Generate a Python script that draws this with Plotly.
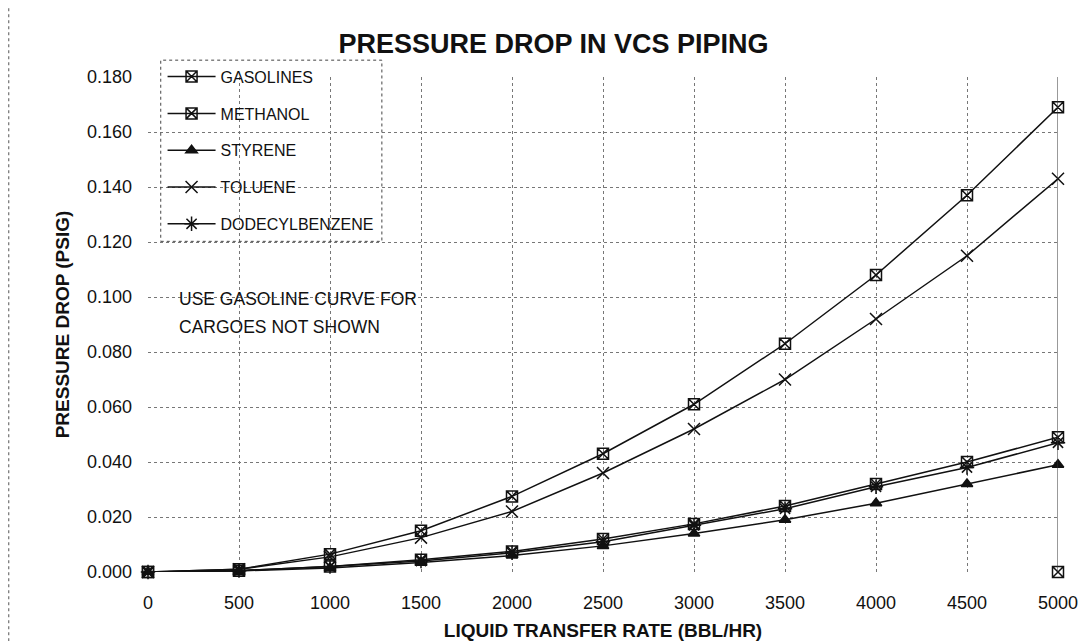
import plotly.graph_objects as go

# ---- data ----
rate = [0, 500, 1000, 1500, 2000, 2500, 3000, 3500, 4000, 4500, 5000]
gasolines = [0.000, 0.001, 0.0065, 0.015, 0.0275, 0.043, 0.061, 0.083, 0.108, 0.137, 0.169]
methanol = [0.000, 0.0005, 0.002, 0.0045, 0.0075, 0.012, 0.0175, 0.024, 0.032, 0.040, 0.049]
styrene = [0.000, 0.0004, 0.0015, 0.0035, 0.006, 0.0095, 0.014, 0.019, 0.025, 0.032, 0.039]
toluene = [0.000, 0.001, 0.0055, 0.0125, 0.022, 0.036, 0.052, 0.070, 0.092, 0.115, 0.143]
dodecylbenzene = [0.000, 0.0005, 0.002, 0.004, 0.007, 0.011, 0.017, 0.023, 0.031, 0.038, 0.047]
stray_x = [5000]
stray_y = [0.000]

y_ticks = [0.0, 0.02, 0.04, 0.06, 0.08, 0.10, 0.12, 0.14, 0.16, 0.18]
x_ticks = rate

FONT = "Liberation Sans, Arial, sans-serif"
INK = "#111111"

series = [
    ("GASOLINES", gasolines, "square-x-open", 11),
    ("METHANOL", methanol, "square-x-open", 11),
    ("STYRENE", styrene, "triangle-up", 10),
    ("TOLUENE", toluene, "x-thin-open", 12),
    ("DODECYLBENZENE", dodecylbenzene, "asterisk-open", 12),
]

fig = go.Figure()
for i, (name, ys, sym, sz) in enumerate(series):
    fig.add_trace(go.Scatter(
        x=rate, y=ys, name=name, mode="lines+markers",
        line=dict(color=INK, width=1.5),
        marker=dict(symbol=sym, size=sz, color=INK,
                    line=dict(color=INK, width=1.5)),
        cliponaxis=False, legendgroup=f"g{i}",
    ))

fig.add_trace(go.Scatter(
    x=stray_x, y=stray_y, mode="markers", showlegend=False,
    marker=dict(symbol="square-x-open", size=11, color=INK,
                line=dict(color=INK, width=1.5)),
    cliponaxis=False,
))

fig.update_layout(
    width=1091, height=641,
    paper_bgcolor="white", plot_bgcolor="white",
    margin=dict(l=140, r=41, t=69, b=75),
    font=dict(family=FONT, size=16, color=INK),
    title=dict(text="<b>PRESSURE DROP IN VCS PIPING</b>", x=0.5, xanchor="center",
               y=1 - 36 / 641, yanchor="middle",
               font=dict(family=FONT, size=27, color=INK)),
    showlegend=True,
    legend=dict(x=0.016, y=1.035, xanchor="left", yanchor="top",
                bgcolor="rgba(255,255,255,0)", borderwidth=0,
                traceorder="grouped", tracegroupgap=13,
                font=dict(family=FONT, size=16, color=INK),
                itemwidth=48),
    xaxis=dict(
        range=[0, 5000], tickvals=x_ticks, ticktext=[str(v) for v in x_ticks],
        showgrid=True, gridcolor="#777777", griddash="dot", gridwidth=1,
        zeroline=False, showline=False, ticks="", ticklabelstandoff=18,
        tickfont=dict(family=FONT, size=18, color=INK),
        title=dict(text="<b>LIQUID TRANSFER RATE (BBL/HR)</b>", standoff=11,
                   font=dict(family=FONT, size=19, color=INK)),
    ),
    yaxis=dict(
        range=[0, 0.18], tickvals=y_ticks, tickformat=".3f",
        showgrid=True, gridcolor="#777777", griddash="dot", gridwidth=1,
        zeroline=False, showline=False, ticks="", ticklabelstandoff=15,
        tickfont=dict(family=FONT, size=18, color=INK),
        title=dict(text="<b>PRESSURE DROP (PSIG)</b>", standoff=12,
                   font=dict(family=FONT, size=19, color=INK)),
    ),
    annotations=[
        dict(text="USE GASOLINE CURVE FOR", xref="paper", yref="paper",
             x=0.032, y=0.551, xanchor="left", yanchor="middle", showarrow=False,
             font=dict(family=FONT, size=17.5, color=INK)),
        dict(text="CARGOES NOT SHOWN", xref="paper", yref="paper",
             x=0.032, y=0.495, xanchor="left", yanchor="middle", showarrow=False,
             font=dict(family=FONT, size=17.5, color=INK)),
    ],
    shapes=[
        # right plot border (solid)
        dict(type="line", xref="x", yref="paper", x0=5000, x1=5000, y0=0, y1=1,
             line=dict(color="#333333", width=1)),
        # legend box (dotted)
        dict(type="rect", xref="paper", yref="paper", x0=0.014, x1=0.257, y0=0.668, y1=1.034,
             line=dict(color="#444444", width=1, dash="dot")),
        # outer page frame
        dict(type="line", xref="paper", yref="paper", x0=-0.153, x1=-0.153, y0=-0.152, y1=1.139,
             line=dict(color="#555555", width=1, dash="dot")),
        dict(type="line", xref="paper", yref="paper", x0=-0.153, x1=1.045, y0=-0.1495, y1=-0.1495,
             line=dict(color="#444444", width=1.2)),
    ],
)

fig.write_html("out.html")
